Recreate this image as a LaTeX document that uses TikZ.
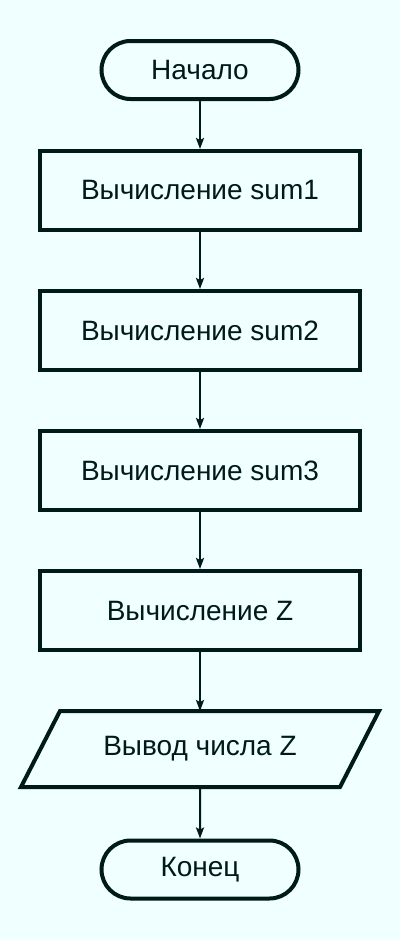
\documentclass[tikz,border=0pt]{standalone}
\usepackage{fontspec}
\setmainfont{Liberation Sans}
\definecolor{fcbg}{RGB}{240,255,255}
\definecolor{fcline}{RGB}{0,26,26}
\usetikzlibrary{arrows.meta,positioning,shapes.geometric,shapes.misc}

\begin{document}
\begin{tikzpicture}[x=1pt,y=-1pt,
  every node/.style={font=\fontsize{28}{33}\selectfont,text=fcline},
  term/.style={draw=fcline,line width=4pt,fill=fcbg,rounded rectangle,
    minimum width=197pt,minimum height=58pt,inner sep=0pt},
  proc/.style={draw=fcline,line width=4pt,fill=fcbg,rectangle,
    minimum width=320pt,minimum height=79pt,inner sep=0pt},
  io/.style={rectangle,minimum width=354pt,minimum height=72pt,inner sep=0pt,outer sep=2pt},
  ioline/.style={draw=fcline,line width=4pt,line join=miter},
  flow/.style={draw=fcline,line width=2pt,-{Stealth[length=11pt,width=8pt,inset=2pt]}}]
  \fill[fcbg] (0,0) rectangle (400,940);
  \useasboundingbox (0,0) rectangle (400,940);
  \node[term] (start) at (200,70) {Начало};
  \foreach \y/\nm/\txt in {
    190.5/sumA/{Вычисление sum1},
    330.5/sumB/{Вычисление sum2},
    470.5/sumC/{Вычисление sum3},
    610.5/calcZ/{Вычисление Z}} {
    \node[proc] (\nm) at (200,\y) {\txt};
  }
  \node[io] (out) at (200,749) {Вывод числа Z};
  \draw[ioline] ([xshift=39pt]out.north west) -- (out.north east)
    -- ([xshift=-39pt]out.south east) -- (out.south west) -- cycle;
  \node[term] (stop) at (200,869.5) {Конец};
  \foreach \a/\b in {start/sumA,sumA/sumB,sumB/sumC,sumC/calcZ,calcZ/out,out/stop}
    \draw[flow] (\a) -- (\b);
\end{tikzpicture}
\end{document}
